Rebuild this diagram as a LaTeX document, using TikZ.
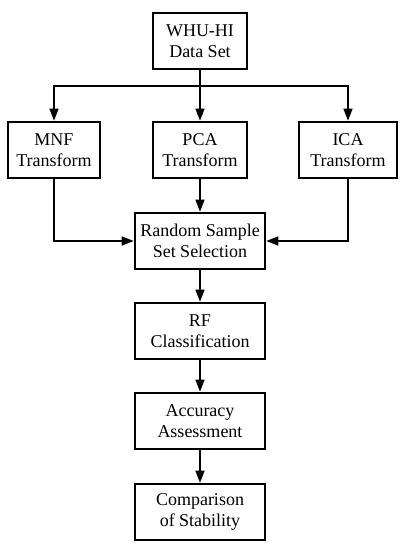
\documentclass[tikz,border=0pt]{standalone}
\usepackage{fontspec}
\setmainfont{Liberation Serif}
\usetikzlibrary{arrows.meta,positioning}
\begin{document}
\begin{tikzpicture}[x=1pt,y=1pt,
    box/.style={draw,line width=2.6pt,inner sep=0pt,minimum height=56pt,align=center,font=\fontsize{18}{21}\selectfont},
    arr/.style={-{Triangle[length=12pt,width=9pt]},line width=1.4pt}]
    \useasboundingbox (0,0) rectangle (400,-550);
    \node[box,minimum width=94pt] (whu) at (200,-41) {WHU-HI\\Data Set};
    \node[box,minimum width=92pt] (mnf) at (54,-150) {MNF\\Transform};
    \node[box,minimum width=94pt] (pca) at (200,-150) {PCA\\Transform};
    \node[box,minimum width=98pt] (ica) at (348,-150) {ICA\\Transform};
    \node[box,minimum width=130pt] (rss) at (200,-241) {Random Sample\\Set Selection};
    \node[box,minimum width=130pt] (rf) at (200,-331) {RF\\Classification};
    \node[box,minimum width=130pt] (acc) at (200,-421) {Accuracy\\Assessment};
    \node[box,minimum width=130pt] (cmp) at (200,-512) {Comparison\\of Stability};
    % split line
    \coordinate (split) at (200,-86);
    \draw[arr] (whu) -- (pca);
    \draw[arr] (split) -| (mnf);
    \draw[arr] (split) -| (ica);
    \draw[arr] (mnf) |- (rss);
    \draw[arr] (ica) |- (rss);
    \foreach \a/\b in {pca/rss,rss/rf,rf/acc,acc/cmp}{\draw[arr] (\a) -- (\b);}
\end{tikzpicture}
\end{document}
